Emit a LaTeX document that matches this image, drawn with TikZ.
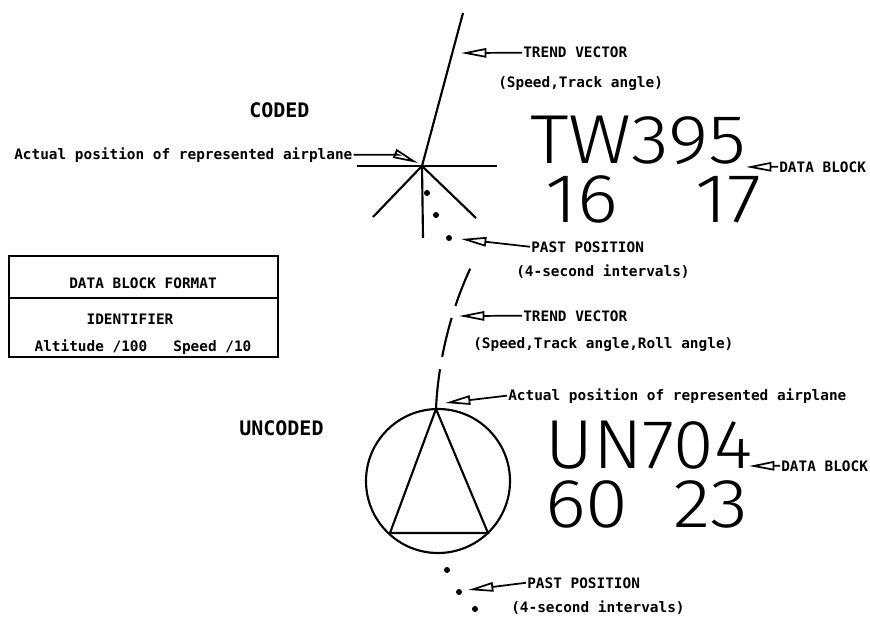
\documentclass[tikz,border=0pt]{standalone}
\usepackage{fontspec}
\setmonofont{DejaVu Sans Mono}
\newfontfamily\plotfont{Fira Sans Light}[FakeStretch=1.12]
\newfontfamily\plotnarrow{Fira Sans Light}[FakeStretch=1.06]
\usetikzlibrary{arrows.meta}
\tikzset{
  lbl/.style={anchor=base west,inner sep=0.75pt,font=\fontsize{10.8pt}{13pt}\ttfamily\bfseries},
  head/.style={anchor=base west,inner sep=0.75pt,font=\fontsize{15pt}{18pt}\ttfamily\bfseries},
  big/.style={anchor=base west,inner sep=0pt,text height=34pt,text depth=0pt,font=\fontsize{52pt}{60pt}\plotfont},
  pointer/.style={line width=1.3pt,-{Triangle[open,length=19pt,width=7pt,line width=1.3pt]}},
  sym/.style={line width=1.6pt}
}

\begin{document}
\begin{tikzpicture}[x=0.75pt,y=0.75pt,yscale=-1,xscale=1]
\useasboundingbox (0,0) rectangle (870,617);
% coded symbol
\coordinate (cpos) at (422,166);
\draw [sym] (357,166) -- (497,166);
\draw [sym] (cpos) -- (373,217);
\draw [sym] (cpos) -- (476,218);
\draw [sym] (cpos) -- (423,238);
\draw [sym] (cpos) -- (463,13);
\fill (427,193) circle (3) (436,215) circle (3) (449,238) circle (3);
\draw (248,117) node (coded) [head] {CODED};
\draw (13,159) node (capos) [lbl] {Actual position of represented airplane};
\draw (522,58) node (ctv) [lbl] {TREND VECTOR};
\draw (497,87) node (ctvs) [lbl] {(Speed,Track angle)};
\draw (778,172) node (cdb) [lbl] {DATA BLOCK};
\draw (530,252) node (cpp) [lbl] {PAST POSITION};
\draw (515,276) node (cppi) [lbl] {(4-second intervals)};
\draw (530,163) node (cid) [big] {TW395};
\draw (545,222) node (calt) [big] {16};
\draw (695,222) node (cspd) [big] {17};
\coordinate (ctvtip) at (461,53);
\coordinate (cpostip) at (418,163);
\coordinate (cdbtip) at (746,167);
\coordinate (cpptip) at (461,239);
\draw [pointer] (ctv.west) -- (ctvtip);
\draw [pointer] (capos.east) -- ++(44,0) -- (cpostip);
\draw [pointer] (cdb.west) -- (cdbtip);
\draw [pointer] (cpp.west) -- (cpptip);
% format box
\draw [line width=1.3pt] (9,256) rectangle (278,357);
\draw [line width=1.3pt] (9,298) -- (278,298);
\draw (143,288) node (fmt) [lbl,anchor=base] {DATA BLOCK FORMAT};
\draw (130,324) node (ident) [lbl,anchor=base] {IDENTIFIER};
\draw (143,351) node (fields) [lbl,anchor=base] {Altitude /100\ \ \ Speed /10};
% uncoded symbol
\coordinate (upos) at (436,409);
\draw [sym] (438,481) circle (72);
\draw [sym] (upos) -- (390,533) -- (488,533) -- cycle;
\draw [sym,dash pattern=on 30pt off 9.5pt] (upos) .. controls (438,360) and (452,305) .. (473,263);
\fill (447,570) circle (3) (459,592) circle (3) (475,609) circle (3);
\draw (238,435) node (uncoded) [head] {UNCODED};
\draw (522,321) node (utv) [lbl] {TREND VECTOR};
\draw (472,348) node (utvs) [lbl] {(Speed,Track angle,Roll angle)};
\draw (507,400) node (uapos) [lbl] {Actual position of represented airplane};
\draw (780,471) node (udb) [lbl] {DATA BLOCK};
\draw (526,588) node (upp) [lbl] {PAST POSITION};
\draw (510,612) node (uppi) [lbl] {(4-second intervals)};
\draw (545,468) node (uid) [big,font=\fontsize{52pt}{60pt}\plotnarrow] {UN704};
\draw (545,527) node (ualt) [big] {60};
\draw (673,527) node (uspd) [big] {23};
\coordinate (utvtip) at (459,316);
\coordinate (upostip) at (445,403);
\coordinate (udbtip) at (749,466);
\coordinate (upptip) at (468,590);
\draw [pointer] (utv.west) -- (utvtip);
\draw [pointer] (uapos.west) -- (upostip);
\draw [pointer] (udb.west) -- (udbtip);
\draw [pointer] (upp.west) -- (upptip);
\end{tikzpicture}
\end{document}
